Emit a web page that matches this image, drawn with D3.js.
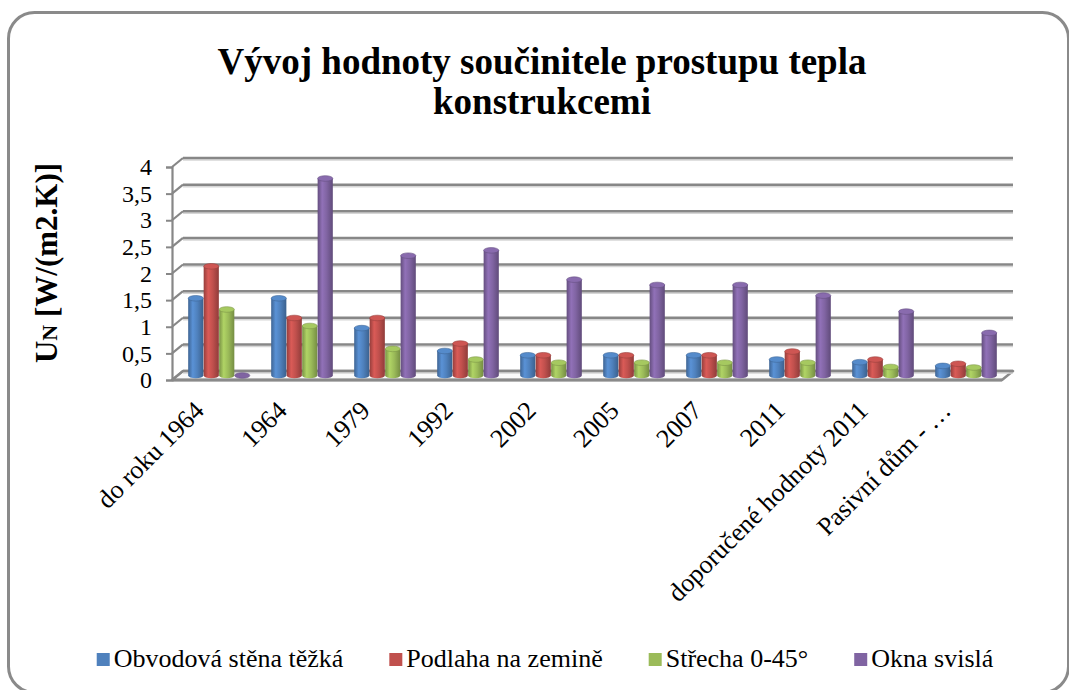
<!DOCTYPE html>
<html><head><meta charset="utf-8">
<script src="https://cdn.jsdelivr.net/npm/d3@7/dist/d3.min.js"></script>
<style>
body{margin:0;background:#fff;}
svg{display:block;}
text{font-family:"Liberation Serif","Times New Roman",serif;}
</style></head>
<body>
<svg id="c" width="1069" height="690" font-family="Liberation Serif"></svg>
<script>
const categories = ["do roku 1964","1964","1979","1992","2002","2005","2007","2011","doporučené hodnoty 2011","Pasivní dům - …"];
const seriesNames = ["Obvodová stěna těžká","Podlaha na zemině","Střecha 0-45°","Okna svislá"];
const seriesColors = ["#4F81BD","#C0504D","#9BBB59","#8064A2"];
const wallValues   = [1.45, 1.45, 0.89, 0.46, 0.38, 0.38, 0.38, 0.30, 0.25, 0.18];
const floorValues  = [2.05, 1.08, 1.08, 0.60, 0.38, 0.38, 0.38, 0.45, 0.30, 0.22];
const roofValues   = [1.24, 0.93, 0.50, 0.30, 0.24, 0.24, 0.24, 0.24, 0.16, 0.15];
const windowValues = [0, 3.70, 2.25, 2.35, 1.80, 1.70, 1.70, 1.50, 1.20, 0.80];
const yTicks = [0,0.5,1,1.5,2,2.5,3,3.5,4];
const titleLines = ["Vývoj hodnoty součinitele prostupu tepla","konstrukcemi"];

const FONT = "Liberation Serif, Times New Roman, serif";
const series = [wallValues, floorValues, roofValues, windowValues];
const svg = d3.select("#c");
const defs = svg.append("defs");

// outer frame
svg.append("rect").attr("x",8.5).attr("y",12.5).attr("width",1060).attr("height",680)
  .attr("rx",26).attr("fill","#fff").attr("stroke","#8a8a8a").attr("stroke-width",3);

// title
const title = svg.append("text").attr("text-anchor","middle").attr("font-weight","bold")
  .attr("font-family",FONT).attr("font-size",37).attr("fill","#000");
titleLines.forEach((t,i)=>title.append("tspan").attr("x",542).attr("y",74+i*40).text(t));

// geometry
const X0 = 172, X1 = 1002, DX = 11, DY = -9;
const yF = d3.scaleLinear().domain([0,4]).range([380,167]);
const x = d3.scaleBand().domain(categories).range([X0,X1]).paddingInner(0.25).paddingOuter(0.125);
const xs = d3.scaleBand().domain(d3.range(seriesNames.length)).range([0,x.bandwidth()]).padding(0.02);

const grid = svg.append("g");
grid.append("path")
  .attr("d",`M${X0},${yF(0)}L${X1},${yF(0)}L${X1+DX},${yF(0)+DY}L${X0+DX},${yF(0)+DY}Z`)
  .attr("fill","#fafafa").attr("stroke","#8a8a8a").attr("stroke-width",2.5).attr("stroke-linejoin","round");
yTicks.forEach(v=>{
  const yb = yF(v)+DY;
  grid.append("line").attr("x1",X0+DX).attr("x2",X1+DX).attr("y1",yb+2).attr("y2",yb+2)
    .attr("stroke","#d6d6d6").attr("stroke-width",1.5);
  grid.append("line").attr("x1",X0+DX).attr("x2",X1+DX).attr("y1",yb).attr("y2",yb)
    .attr("stroke","#878787").attr("stroke-width",2.5);
  grid.append("line").attr("x1",X0).attr("x2",X0+DX).attr("y1",yF(v)).attr("y2",yb)
    .attr("stroke","#878787").attr("stroke-width",2.2);
});
grid.append("line").attr("x1",X0).attr("x2",X1).attr("y1",yF(0)).attr("y2",yF(0))
  .attr("stroke","#8a8a8a").attr("stroke-width",3);

// y axis
const loc = d3.formatLocale({decimal:",",thousands:" ",grouping:[3],currency:["",""]});
const yAxis = d3.axisLeft(yF).tickValues(yTicks).tickFormat(loc.format("~g")).tickSize(6).tickPadding(14);
const ax = svg.append("g").attr("transform",`translate(${X0},0)`).call(yAxis)
  .attr("font-family",FONT).attr("font-size",24);
ax.select(".domain").attr("stroke","#878787").attr("stroke-width",2.2);
ax.selectAll(".tick line").attr("stroke","#878787").attr("stroke-width",2);
ax.selectAll(".tick text").attr("font-family",FONT).attr("font-size",24).attr("fill","#000");

// y title
const yt = svg.append("text").attr("transform","translate(57,263) rotate(-90)")
  .attr("text-anchor","middle").attr("font-weight","bold").attr("font-family",FONT).attr("font-size",31);
yt.append("tspan").text("U");
yt.append("tspan").attr("font-size",22).text("N");
yt.append("tspan").text(" [W/(m2.K)]");

// gradients
seriesColors.forEach((c,i)=>{
  const g = defs.append("linearGradient").attr("id","g"+i).attr("x1",0).attr("x2",1).attr("y1",0).attr("y2",0);
  const base = d3.color(c);
  g.append("stop").attr("offset","0%").attr("stop-color",base.darker(0.7));
  g.append("stop").attr("offset","30%").attr("stop-color",base.brighter(0.35));
  g.append("stop").attr("offset","60%").attr("stop-color",base);
  g.append("stop").attr("offset","100%").attr("stop-color",base.darker(0.8));
});

// bars (cylinders) at mid depth
const bars = svg.append("g").attr("transform",`translate(${DX/2},${DY/2})`);
categories.forEach((cat,ci)=>{
  series.forEach((vals,si)=>{
    const v = vals[ci];
    const bx = x(cat)+xs(si), w = xs.bandwidth();
    const rx = w/2, ry = 2.8;
    const yb = yF(0), ytp = yF(v);
    const col = d3.color(seriesColors[si]);
    if (v > 0) {
      bars.append("path")
        .attr("d",`M${bx},${ytp}L${bx},${yb}A${rx},${ry} 0 0 0 ${bx+w},${yb}L${bx+w},${ytp}Z`)
        .attr("fill",`url(#g${si})`);
    }
    bars.append("ellipse").attr("cx",bx+rx).attr("cy",ytp).attr("rx",rx).attr("ry",ry)
      .attr("fill",v>0?col.brighter(0.2):col).attr("stroke",col.darker(0.6)).attr("stroke-width",0.6);
  });
});

// x labels
const xl = svg.append("g");
categories.forEach(cat=>{
  xl.append("text")
    .attr("transform",`translate(${x(cat)+x.bandwidth()/2-8},${412}) rotate(-45)`)
    .attr("text-anchor","end").attr("font-family",FONT).attr("font-size",26).attr("fill","#000").text(cat);
});

// legend
const lg = svg.append("g");
const items = seriesNames.map((n,i)=>{
  const g = lg.append("g");
  g.append("rect").attr("x",0).attr("y",-14).attr("width",13).attr("height",13).attr("fill",seriesColors[i]);
  const t = g.append("text").attr("x",17).attr("y",0).attr("font-family",FONT).attr("font-size",26).attr("fill","#000").text(n);
  return {g, w: 17 + t.node().getComputedTextLength()};
});
const gap = 46;
const total = d3.sum(items,d=>d.w) + gap*(items.length-1);
let cx = 545 - total/2;
items.forEach(it=>{ it.g.attr("transform",`translate(${cx},667)`); cx += it.w + gap; });
</script>
</body></html>
